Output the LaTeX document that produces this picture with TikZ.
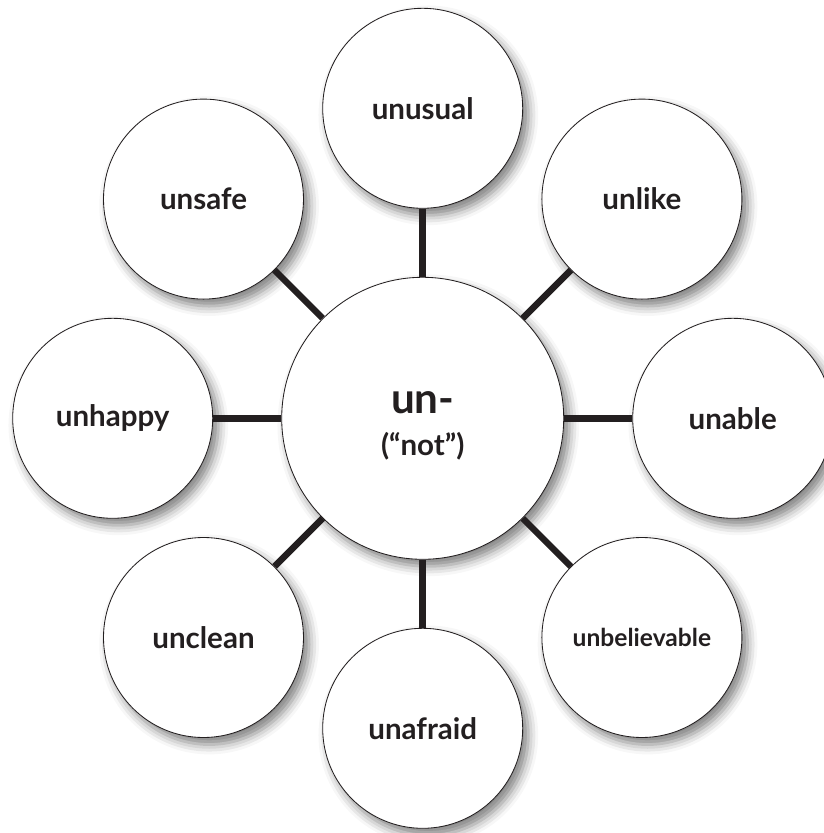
\documentclass[tikz,border=0pt]{standalone}
\usepackage{fontspec}
\setmainfont{Lato}
\usepackage{xcolor}
\usepackage{tikz}
\usetikzlibrary{shadows.blur}
\definecolor{inkgray}{HTML}{231F20}
\tikzstyle{hubnode}=[inkgray, draw=inkgray, line width=0.6pt, shape=circle, fill=white, minimum size=7.05cm, inner sep=0pt, align=center, font=\bfseries, blur shadow={shadow xshift=4pt, shadow yshift=-5pt, shadow blur radius=7pt, shadow opacity=50}]
\tikzstyle{wordnode}=[inkgray, draw=inkgray, line width=0.6pt, shape=circle, fill=white, minimum size=5cm, inner sep=0pt, font=\fontsize{21}{24}\selectfont\bfseries, blur shadow={shadow xshift=4pt, shadow yshift=-5pt, shadow blur radius=7pt, shadow opacity=50}]
\tikzstyle{spoke}=[line width=4.6pt, color=inkgray]

\begin{document}
\begin{tikzpicture}
\useasboundingbox (-10.5675,-10.3675) rectangle (10.0075,10.4575);

% strut on the first line pushes the two lines a little below the middle
\node [hubnode] (un) at (0,0) {\rule{0pt}{26pt}{\fontsize{30}{30}\selectfont un-}\\[12pt]{\fontsize{21}{24}\selectfont (``not'')}};

\node [wordnode] (unusual) at (90:7.75) {unusual};
\node [wordnode] (unlike) at (45:7.75) {unlike};
\node [wordnode] (unable) at (0:7.75) {unable};
\node [wordnode, font=\fontsize{17.5}{20}\selectfont\bfseries] (unbelievable) at (-45:7.75) {unbelievable};
\node [wordnode] (unafraid) at (-90:7.75) {unafraid};
\node [wordnode] (unclean) at (-135:7.75) {unclean};
\node [wordnode] (unhappy) at (180:7.75) {unhappy};
\node [wordnode] (unsafe) at (135:7.75) {unsafe};

\draw[spoke] (un) -- (unusual);
\draw[spoke] (un) -- (unlike);
\draw[spoke] (un) -- (unable);
\draw[spoke] (un) -- (unbelievable);
\draw[spoke] (un) -- (unafraid);
\draw[spoke] (un) -- (unclean);
\draw[spoke] (un) -- (unhappy);
\draw[spoke] (un) -- (unsafe);
\end{tikzpicture}
\end{document}
